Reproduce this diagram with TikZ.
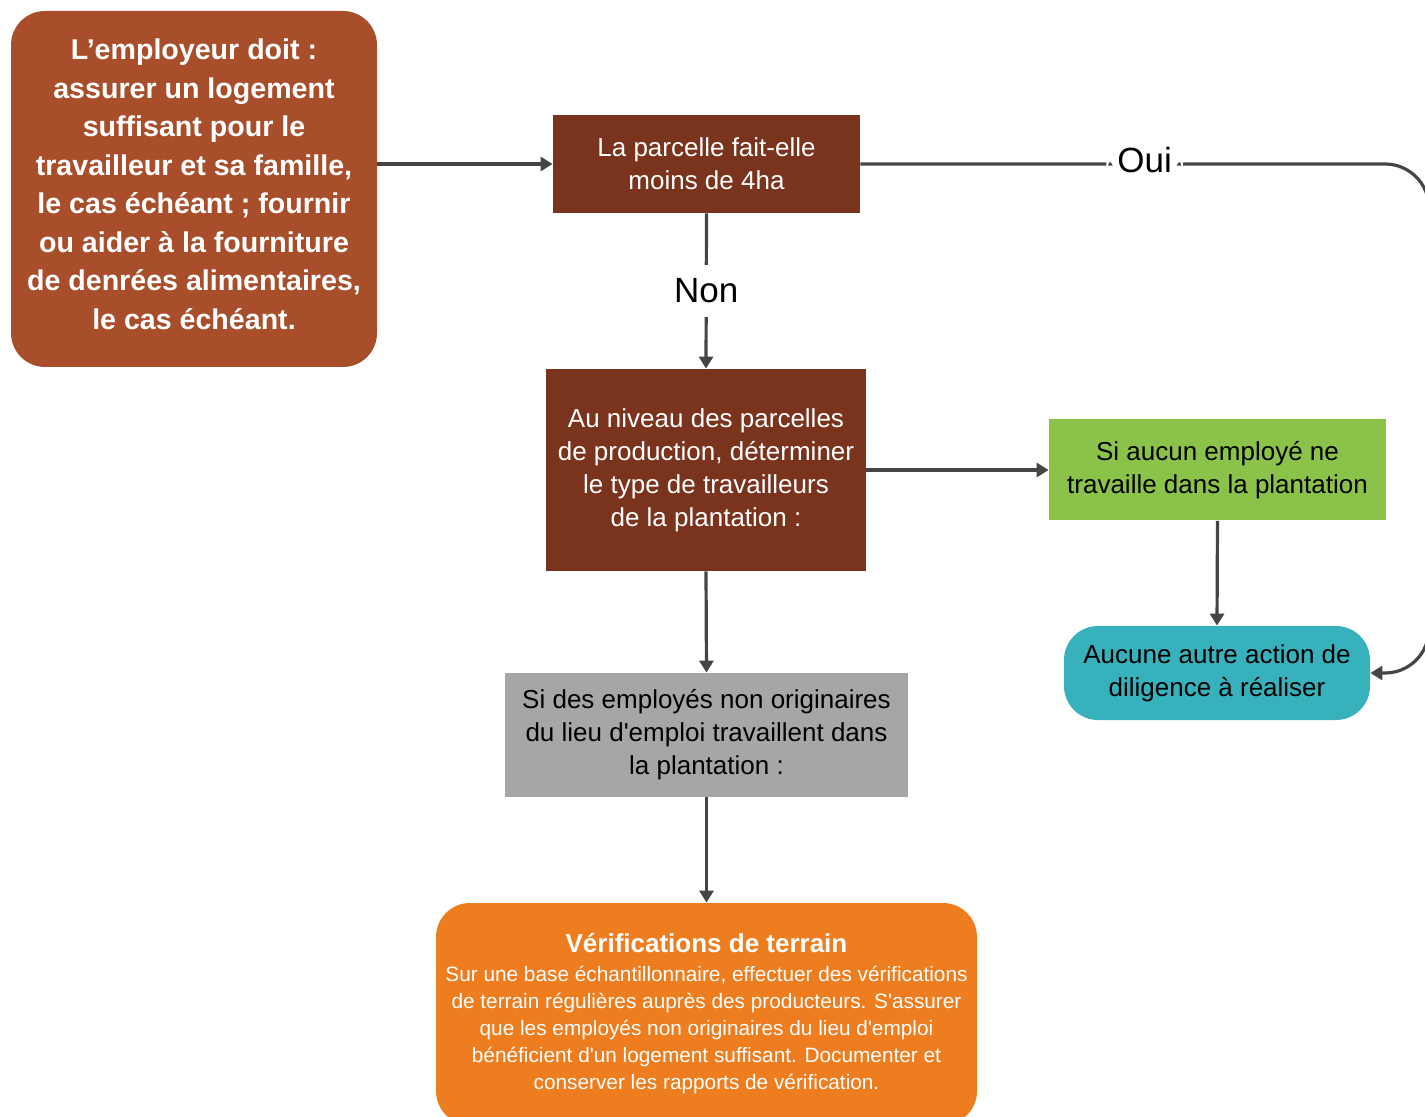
\documentclass[tikz,border=0pt]{standalone}
\usepackage{fontspec}
\setmainfont{Liberation Sans}
\usetikzlibrary{arrows.meta}

\definecolor{brunclair}{HTML}{A84E2B}
\definecolor{brunfonce}{HTML}{7A341E}
\definecolor{vert}{HTML}{8BC34A}
\definecolor{turquoise}{HTML}{37B2BC}
\definecolor{grisbox}{HTML}{A6A6A6}
\definecolor{orangebox}{HTML}{EE7D1F}
\definecolor{trait}{HTML}{454545}

\begin{document}
\begin{tikzpicture}[x=0.5pt, y=-0.5pt,
    boite/.style={align=center, inner sep=0pt, font=\fontsize{13}{16.5}\selectfont},
    fleche/.style={draw=trait, line width=1.6pt, -{Triangle[length=6pt,width=7pt]}},
    lbl/.style={fill=white, font=\fontsize{17.5}{20}\selectfont, inner xsep=5.5pt, inner ysep=7pt}]
    \useasboundingbox (0,0) rectangle (1425,1117);

    % boites
    \node[boite, fill=brunclair, text=white, rounded corners=17pt,
          minimum width=183pt, minimum height=178pt,
          font=\bfseries\fontsize{14.3}{19.25}\selectfont] (emp) at (194,189)
        {L’employeur doit :\\assurer un logement\\suffisant pour le\\travailleur et sa famille,\\le cas échéant ; fournir\\ou aider à la fourniture\\de denrées alimentaires,\\le cas échéant.\\[-14.5pt]};
    \node[boite, fill=brunfonce, text=white, minimum width=153.5pt, minimum height=49pt] (parcelle) at (706.5,164)
        {La parcelle fait-elle\\moins de 4ha};
    \node[boite, fill=brunfonce, text=white, minimum width=160pt, minimum height=101pt] (niveau) at (706,470)
        {Au niveau des parcelles\\de production, déterminer\\le type de travailleurs\\de la plantation :};
    \node[boite, fill=vert, minimum width=168.5pt, minimum height=50.5pt] (aucun) at (1217.5,470)
        {Si aucun employé ne\\travaille dans la plantation};
    \node[boite, fill=turquoise, rounded corners=17pt, minimum width=153pt, minimum height=47pt] (action) at (1217,673)
        {Aucune autre action de\\diligence à réaliser};
    \node[boite, fill=grisbox, minimum width=201.5pt, minimum height=62pt] (nonorig) at (706.5,735)
        {Si des employés non originaires\\du lieu d\textquotesingle emploi travaillent dans\\la plantation :};
    \node[boite, fill=orangebox, text=white, rounded corners=17pt, minimum width=270.5pt, minimum height=111pt,
          font=\fontsize{10.4}{13.5}\selectfont] (verif) at (706.5,1014)
        {{\bfseries\fontsize{13}{16}\selectfont Vérifications de terrain}\\[1pt]
         Sur une base échantillonnaire, effectuer des vérifications\\de terrain régulières auprès des producteurs. S\textquotesingle assurer\\que les employés non originaires du lieu d\textquotesingle emploi\\bénéficient d\textquotesingle un logement suffisant. Documenter et\\conserver les rapports de vérification.};

    % liaisons
    \coordinate (coin1) at (1429,164);
    \coordinate (coin2) at (1429,673);
    \draw[fleche] (emp.east |- parcelle.west) -- (parcelle.west);
    \draw[fleche] (parcelle.south) -- node[lbl] (non) {Non} (niveau.north);
    \draw[fleche, rounded corners=22pt] (parcelle.east) -- node[lbl, yshift=2pt] (oui) {Oui} (coin1) -- (coin2) -- (action.east);
    \draw[fleche] (niveau.east) -- (aucun.west);
    \draw[fleche] (aucun.south) -- (action.north);
    \draw[fleche] (niveau.south) -- (nonorig.north);
    \draw[fleche] (nonorig.south) -- (verif.north);
\end{tikzpicture}
\end{document}
